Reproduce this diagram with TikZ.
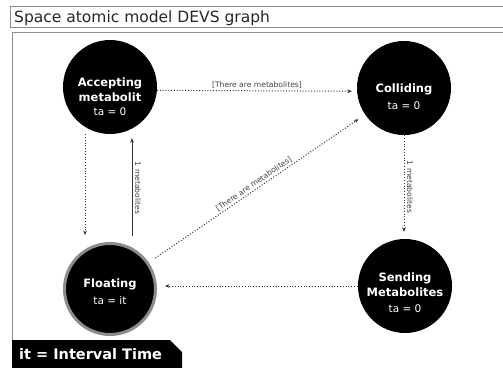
\documentclass[tikz,border=0pt]{standalone}
\usepackage{fontspec}
\setmainfont{DejaVu Sans}
\usetikzlibrary{arrows.meta,calc}

% font for the time-advance line inside each state
\newcommand{\tafont}{\mdseries\fontsize{10.5}{13}\selectfont}

\tikzset{
  statebox/.style={circle, fill=black, minimum size=94pt, inner sep=0pt},
  ringbox/.style={statebox, draw=black!45, line width=3pt, minimum size=91pt},
  statetext/.style={text=white, align=center, inner sep=0pt,
    font=\bfseries\fontsize{11.5}{15}\selectfont},
  edgelabel/.style={text=black!75, font=\fontsize{7.6}{9}\selectfont, inner sep=1.5pt},
  dotline/.style={draw=black!80, line width=1pt, dash pattern=on 1pt off 1.8pt,
    -{Stealth[length=4.5pt,width=3.8pt]}},
  solidline/.style={draw=black!80, line width=0.9pt,
    -{Stealth[length=4.5pt,width=3.8pt]}},
  framegray/.style={draw=black!45, line width=0.8pt},
}

\begin{document}
\begin{tikzpicture}[x=1pt, y=-1pt]
  \useasboundingbox (0,0) rectangle (503,367);

  % title bar and outer frame
  \draw[framegray] (10,6) rectangle (506,27);
  \node[anchor=base west, inner sep=0pt, font=\fontsize{15.5}{18}\selectfont, text=black!85]
    (title) at (14,22) {Space atomic model DEVS graph};
  \draw[draw=black!45, line width=1.6pt] (12,32.5) -- (506,32.5);
  \draw[framegray] (12,32.5) -- (12,370);

  % states
  \node[statebox] (A) at (110,87) {};
  \node[statebox] (C) at (404,88) {};
  \node[ringbox]  (F) at (110,289) {};
  \node[statebox] (S) at (405,286) {};

  \node[statetext] (At) at ([yshift=-10pt]A.center)
    {Accepting\\metabolit\\[-1pt]{\tafont ta = 0}};
  \node[statetext] (Ct) at ([yshift=-9pt]C.center)
    {Colliding\\[2pt]{\tafont ta = 0}};
  \node[statetext] (Ft) at ([yshift=-3pt]F.center)
    {Floating\\[2pt]{\tafont ta = it}};
  \node[statetext] (St) at ([yshift=-7pt]S.center)
    {Sending\\Metabolites\\[1pt]{\tafont ta = 0}};

  % transitions
  \draw[dotline, shorten >=5pt] (A.-4) -- (C.184)
    node[midway, above, edgelabel] {[There are metabolites]};

  \draw[dotline, shorten >=7pt] ([xshift=-25pt]A.south) -- ([xshift=-25pt]F.north);

  \draw[solidline, shorten <=6pt, shorten >=4pt] ([xshift=22pt]F.north) -- ([xshift=22pt]A.south)
    node[midway, anchor=south, rotate=-90, edgelabel, yshift=1pt] {1 metabolites};

  \draw[dotline, shorten >=7pt] (C.south) -- (C.south |- S.north)
    node[midway, anchor=south, rotate=-90, edgelabel, yshift=1pt] {1 metabolites};

  \draw[dotline, shorten >=8pt] (S.west) -- (F.east |- S.west);

  \draw[dotline, shorten <=8pt, shorten >=8pt] (F) -- (C)
    node[midway, sloped, above, edgelabel] {[There are metabolites]};

  % legend
  \fill[black] (12,340) -- (170,340) -- (182,352) -- (182,370) -- (12,370) -- cycle;
  \node[anchor=base west, inner sep=0pt, text=white,
    font=\bfseries\fontsize{14.5}{17}\selectfont] (legend) at (19,359) {it = Interval Time};
\end{tikzpicture}
\end{document}
